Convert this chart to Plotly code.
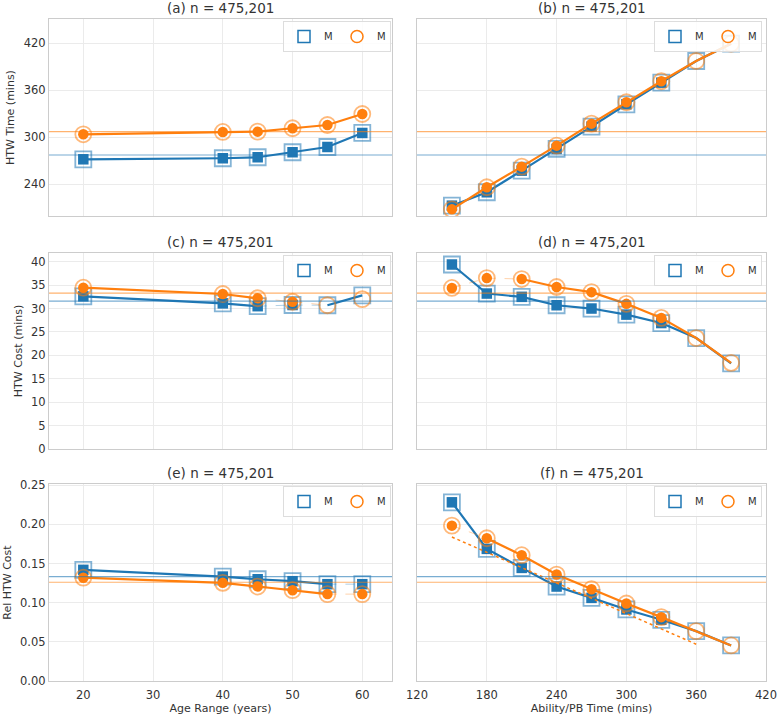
import plotly.graph_objects as go
from plotly.subplots import make_subplots

# ---------------- data ----------------
age = [20, 40, 45, 50, 55, 60]
ability = [150, 180, 210, 240, 270, 300, 330, 360, 390]

a_blue = [271.9, 273.2, 274.5, 280.9, 287.6, 305.5]
a_orange = [303.8, 306.8, 307.2, 311.5, 315.7, 329.7]
b_blue = [212.7, 229.8, 257.4, 285.1, 313.6, 342.1, 369.7, 397.4, 419.5]
b_orange = [208.0, 236.2, 262.5, 289.3, 317.4, 344.7, 371.5, 397.4, 419.5]

c_blue = [32.6, 31.1, 30.5, 30.75, 30.7, 32.8]
c_orange = [34.45, 33.1, 32.2, 31.45, 30.7, 32.0]
d_blue = [39.4, 33.2, 32.5, 30.7, 30.0, 28.7, 26.9, 23.7, 18.3]
d_orange = [34.4, 36.5, 36.3, 34.6, 33.5, 31.0, 28.0, 23.7, 18.4]

e_blue = [0.142, 0.1334, 0.130, 0.1275, 0.1237, 0.1237]
e_orange = [0.132, 0.1254, 0.1207, 0.116, 0.111, 0.111]
f_blue = [0.2283, 0.1688, 0.1445, 0.1207, 0.1062, 0.0914, 0.0782, 0.0637, 0.0454]
f_orange = [0.1985, 0.1824, 0.1607, 0.136, 0.1173, 0.099, 0.0816, 0.0637, 0.0454]

f_trend_x = [150, 360]
f_trend_orange = [0.184, 0.047]

mean_blue = [277.4, 31.6, 0.1334]
mean_orange = [307.2, 33.3, 0.1262]

titles = ["(a) n = 475,201", "(b) n = 475,201", "(c) n = 475,201",
          "(d) n = 475,201", "(e) n = 475,201", "(f) n = 475,201"]
series_names = ["M", "M"]
y_titles = ["HTW Time (mins)", "HTW Cost (mins)", "Rel HTW Cost"]
x_titles = ["Age Range (years)", "Ability/PB Time (mins)"]

# flags: which points are filled, which points carry solid / faint segments
panels = [
    # (x, blue, orange, filled_b, filled_o, solid_b, solid_o, faint_b, faint_o)
    (age, a_blue, a_orange, [1]*6, [1]*6, [1]*6, [1]*6, [0]*6, [0]*6),
    (ability, b_blue, b_orange, [1]*7+[0]*2, [1]*7+[0]*2, [1]*9, [1]*9, [0]*9, [0]*9),
    (age, c_blue, c_orange, [1, 1, 1, 1, 0, 0], [1, 1, 1, 1, 0, 0],
     [1, 1, 1, 0, 1, 1], [1, 1, 1, 0, 0, 0], [0, 0, 1, 1, 1, 0], [0, 0, 1, 1, 1, 0]),
    (ability, d_blue, d_orange, [1]*7+[0]*2, [1]*7+[0]*2,
     [1]*9, [0, 0]+[1]*7, [0]*9, [1, 1, 1]+[0]*6),
    (age, e_blue, e_orange, [1]*6, [1]*6, [1, 1, 1, 1, 1, 0], [1, 1, 1, 1, 1, 0],
     [0, 0, 0, 0, 1, 1], [0, 0, 0, 0, 1, 1]),
    (ability, f_blue, f_orange, [1]*7+[0]*2, [1]*7+[0]*2,
     [1]*9, [0]+[1]*8, [0]*9, [1, 1]+[0]*7),
]

BLUE = "#1f77b4"
ORANGE = "#ff7f0e"
BLUE_A = "rgba(31,119,180,0.55)"
ORANGE_A = "rgba(255,127,14,0.55)"
BLUE_F = "rgba(31,119,180,0.35)"
ORANGE_F = "rgba(255,127,14,0.35)"
FONT = "DejaVu Sans"
TXT = "#333333"

fig = make_subplots(rows=3, cols=2)

def masked(vals, flags):
    return [v if f else None for v, f in zip(vals, flags)]

for i, (xs, yb, yo, fb, fo, sb, so, gb, go_) in enumerate(panels):
    r, c = i // 2 + 1, i % 2 + 1
    for ys, filled, solid, faint, col, cola, colf, sym in (
            (yb, fb, sb, gb, BLUE, BLUE_A, BLUE_F, "square"),
            (yo, fo, so, go_, ORANGE, ORANGE_A, ORANGE_F, "circle")):
        if any(faint):
            fig.add_trace(go.Scatter(x=xs, y=masked(ys, faint), mode="lines",
                                     line=dict(color=colf, width=1, dash="dash"),
                                     showlegend=False, hoverinfo="skip"), row=r, col=c)
        fig.add_trace(go.Scatter(x=xs, y=masked(ys, solid), mode="lines",
                                 line=dict(color=col, width=2.2),
                                 showlegend=False, hoverinfo="skip"), row=r, col=c)
        fig.add_trace(go.Scatter(x=xs, y=ys, mode="markers",
                                 marker=dict(symbol=sym + "-open", size=16,
                                             color=cola, line=dict(color=cola, width=1.8)),
                                 showlegend=False, hoverinfo="skip"), row=r, col=c)
        fig.add_trace(go.Scatter(x=xs, y=masked(ys, filled), mode="markers",
                                 marker=dict(symbol=sym, size=10.5, color=col,
                                             line=dict(width=0)),
                                 showlegend=False, hoverinfo="skip"), row=r, col=c)
    if i == 5:
        fig.add_trace(go.Scatter(x=f_trend_x, y=f_trend_orange, mode="lines",
                                 line=dict(color=ORANGE, width=1.5, dash="dot"),
                                 showlegend=False, hoverinfo="skip"), row=r, col=c)
    # legend entries
    lg = "legend" if i == 0 else f"legend{i+1}"
    fig.add_trace(go.Scatter(x=[None], y=[None], mode="markers", name=series_names[0],
                             marker=dict(symbol="square-open", size=12, color=BLUE,
                                         line=dict(color=BLUE, width=1.5)),
                             legend=lg, showlegend=True), row=r, col=c)
    fig.add_trace(go.Scatter(x=[None], y=[None], mode="markers", name=series_names[1],
                             marker=dict(symbol="circle-open", size=12, color=ORANGE,
                                         line=dict(color=ORANGE, width=1.5)),
                             legend=lg, showlegend=True), row=r, col=c)
    # mean lines
    fig.add_hline(y=mean_blue[r-1], line=dict(color="rgba(31,119,180,0.6)", width=1.2),
                  layer="above", row=r, col=c)
    fig.add_hline(y=mean_orange[r-1], line=dict(color="rgba(255,127,14,0.6)", width=1.2),
                  layer="above", row=r, col=c)

W, H = 777, 718
xdom = [[49 / W, 392 / W], [417 / W, 766 / W]]
ydom = [[1 - 216 / H, 1 - 19 / H], [1 - 449 / H, 1 - 253 / H], [1 - 681 / H, 1 - 484 / H]]
xranges = [[15.08, 64.26], [120, 420]]
xticks = [[20, 30, 40, 50, 60], [120, 180, 240, 300, 360, 420]]
yranges = [[199.5, 451], [0, 41.86], [0, 0.2517]]
yticks = [[240, 300, 360, 420], [0, 5, 10, 15, 20, 25, 30, 35, 40],
          [0, 0.05, 0.10, 0.15, 0.20, 0.25]]

axis_common = dict(showline=True, mirror=True, linecolor="#cccccc", linewidth=1.2,
                   showgrid=True, gridcolor="#ebebeb", gridwidth=1, zeroline=False,
                   ticks="", automargin=False,
                   tickfont=dict(family=FONT, size=11.5, color=TXT))

layout = {}
for i in range(6):
    r, c = i // 2, i % 2
    n = "" if i == 0 else str(i + 1)
    xa = dict(axis_common, domain=xdom[c], range=xranges[c], tickvals=xticks[c],
              showticklabels=(r == 2), ticklabelstandoff=3)
    if r == 2:
        xa["title"] = dict(text=x_titles[c], font=dict(family=FONT, size=11, color=TXT),
                           standoff=3)
    ya = dict(axis_common, domain=ydom[r], range=yranges[r], tickvals=yticks[r],
              showticklabels=(c == 0))
    if r == 2:
        ya["tickformat"] = ".2f"
    if c == 0:
        ya["title"] = dict(text=y_titles[r], font=dict(family=FONT, size=11, color=TXT),
                           standoff=6)
    layout["xaxis" + n] = xa
    layout["yaxis" + n] = ya

# legend boxes: (right edge px, top px)
leg_pos = [(391, 21), (762, 21), (391, 255), (762, 255), (391, 486), (762, 486)]
for i, (lx, ly) in enumerate(leg_pos):
    n = "legend" if i == 0 else f"legend{i+1}"
    layout[n] = dict(x=lx / W, y=1 - ly / H, xanchor="right", yanchor="top",
                     orientation="h", bgcolor="rgba(255,255,255,0.85)",
                     bordercolor="#dddddd", borderwidth=1,
                     font=dict(family=FONT, size=10, color=TXT),
                     itemwidth=30, entrywidth=8, entrywidthmode="pixels",
                     tracegroupgap=0)

annotations = []
for i in range(6):
    n = "" if i == 0 else str(i + 1)
    annotations.append(dict(text=titles[i], xref=f"x{n} domain", yref=f"y{n} domain",
                            x=0.5, y=1, xanchor="center", yanchor="bottom", yshift=1,
                            showarrow=False, font=dict(family=FONT, size=13.5, color=TXT)))

fig.update_layout(**layout)
fig.update_layout(width=W, height=H, margin=dict(l=0, r=0, t=0, b=0),
                  plot_bgcolor="white", paper_bgcolor="white",
                  font=dict(family=FONT, color=TXT), annotations=annotations)

fig.write_html("out.html", config={"displayModeBar": False},
               post_script="document.body.style.margin='0';document.body.style.overflow='hidden';")
